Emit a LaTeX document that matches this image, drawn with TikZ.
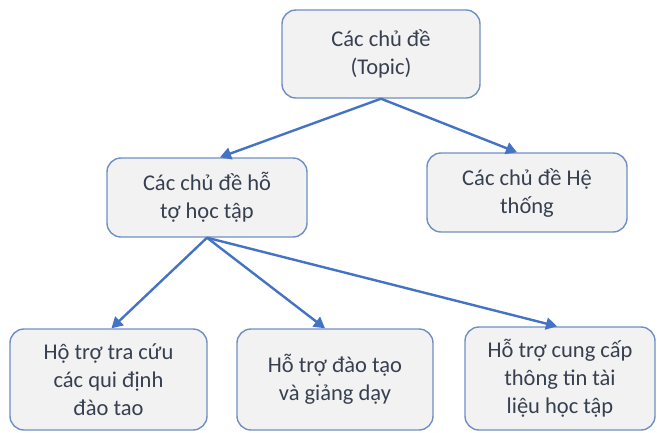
\documentclass[tikz,border=0pt]{standalone}
\usepackage{fontspec}
\setmainfont{Carlito}
\usetikzlibrary{arrows.meta,calc}
\definecolor{boxfill}{HTML}{F2F2F2}
\definecolor{boxline}{HTML}{6F8FC4}
\definecolor{txt}{HTML}{374050}
\definecolor{arr}{HTML}{4472C4}
\tikzset{
  topicbox/.style={draw=boxline, line width=1.4pt, fill=boxfill, rounded corners=14pt,
    text=txt, align=center, inner sep=0pt,
    font=\fontsize{22.5}{28}\selectfont},
  link/.style={draw=arr, line width=2.4pt, -{Triangle[length=11pt,width=12pt]}}
}
\begin{document}
\begin{tikzpicture}[x=1pt,y=-1pt]
\useasboundingbox (0,0) rectangle (657,432);
\node[topicbox, minimum width=198pt, minimum height=88pt] (top) at (381,54) {Các chủ đề\\(Topic)};
\node[topicbox, minimum width=200pt, minimum height=79pt] (lm) at (207,197.5) {Các chủ đề hỗ\\tợ học tập};
\node[topicbox, minimum width=200pt, minimum height=79pt] (rm) at (527,192.5) {Các chủ đề Hệ\\thống};
\node[topicbox, minimum width=197pt, minimum height=101pt] (b1) at (108.5,379.5) {Hộ trợ tra cứu\\các qui định\\đào tao};
\node[topicbox, minimum width=196pt, minimum height=101pt] (b2) at (335,379.5) {Hỗ trợ đào tạo\\và giảng dạy};
\node[topicbox, minimum width=190pt, minimum height=103pt] (b3) at (560,378.5) {Hỗ trợ cung cấp\\thông tin tài\\liệu học tập};
\draw[link] (top.south) -- ($(lm.north)+(13,0)$);
\draw[link] (top.south) -- ($(rm.north)+(-10,0)$);
\draw[link] (lm.south) -- ($(b1.north)+(3,0)$);
\draw[link] (lm.south) -- ($(b2.north)+(-10,0)$);
\draw[link] (lm.south) -- ($(b3.north)+(-3,0)$);
\end{tikzpicture}
\end{document}
